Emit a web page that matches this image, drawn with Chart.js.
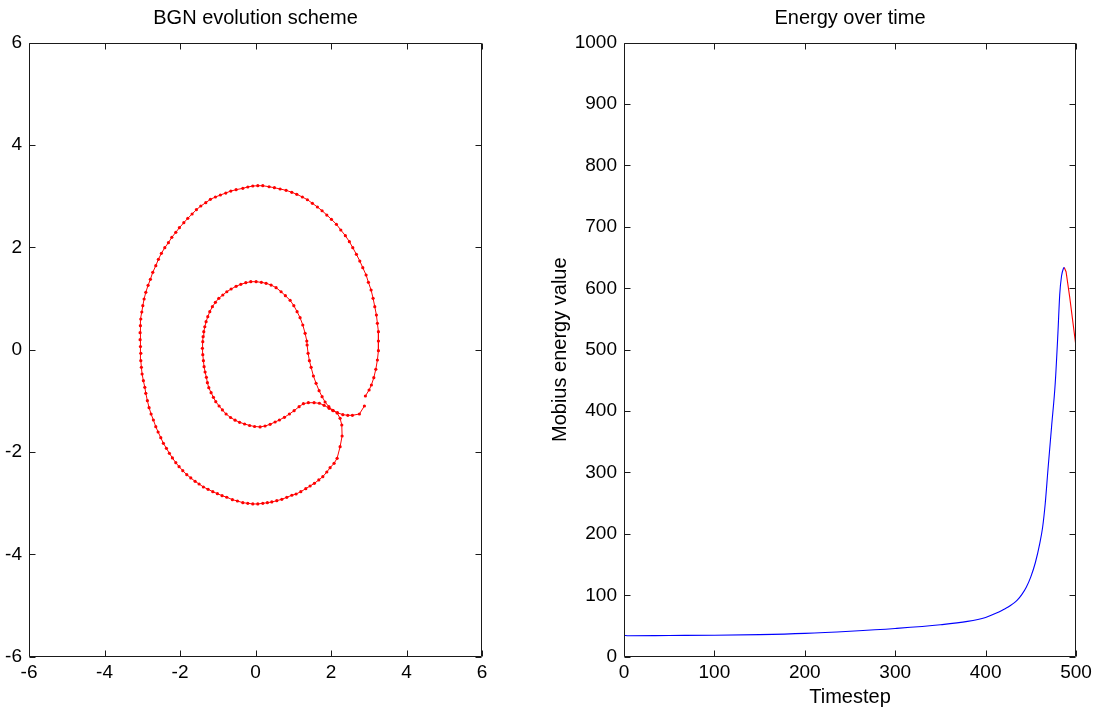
<!DOCTYPE html>
<html><head><meta charset="utf-8">
<script src="https://cdn.jsdelivr.net/npm/chart.js@4.4.1/dist/chart.umd.min.js"></script>
<style>
html,body{margin:0;padding:0;background:#fff;overflow:hidden;width:1094px;height:707px}
.c{position:absolute;left:0;top:0;width:1094px;height:720px}
</style></head><body>
<div class="c"><canvas id="left"></canvas></div>
<div class="c"><canvas id="right"></canvas></div>
<script>
// ---- Left plot: curve vertices (x, y) ----
const curveX = [2.885,2.752,2.567,2.445,2.313,2.170,
2.056,1.950,1.817,1.693,1.552,1.401,1.269,1.155,1.023,0.898,0.766,0.633,0.519,0.387,0.254,0.122,-0.024,-0.156,-0.289,-0.421,-0.540,-0.660,-0.779,-0.877,-0.964,-1.052,-1.115,-1.176,-1.237,-1.274,-1.301,-1.335,-1.362,-1.380,-1.396,-1.407,-1.396,-1.388,-1.370,-1.343,-1.309,-1.264,-1.211,-1.142,-1.062,-0.972,-0.866,-0.760,-0.646,-0.514,-0.389,-0.257,-0.125,0.016,0.156,0.281,0.413,0.546,0.678,0.792,0.917,1.015,1.102,1.181,1.253,1.314,1.359,1.367,1.393,1.428,1.473,1.534,1.605,1.685,1.764,1.844,1.942,2.048,2.162,
2.241,2.286,2.294,2.241,2.162,2.082,1.976,1.889,1.783,1.677,1.560,1.446,1.332,1.200,1.075,0.962,0.829,0.697,0.564,0.432,0.315,
0.193,0.061,-0.072,-0.204,-0.336,-0.479,-0.612,-0.760,-0.885,-1.009,-1.131,-1.256,-1.380,-1.494,-1.600,-1.714,-1.820,-1.926,-2.024,-2.111,-2.201,-2.281,-2.360,-2.440,-2.509,-2.580,-2.641,-2.705,-2.766,-2.819,-2.864,-2.906,-2.932,-2.970,-3.004,-3.023,-3.038,-3.038,-3.048,
-3.057,-3.057,-3.049,-3.038,-3.012,-2.985,-2.951,-2.906,-2.845,-2.784,-2.721,-2.641,-2.572,-2.493,-2.403,-2.307,-2.217,-2.111,-2.016,-1.899,-1.793,-1.679,-1.566,-1.449,-1.317,-1.195,-1.062,-0.930,-0.787,-0.654,-0.514,-0.336,-0.204,-0.072,0.061,0.193,
0.360,0.501,0.652,0.811,0.962,1.094,1.242,1.375,1.507,1.640,1.764,1.889,2.011,2.143,2.260,2.381,2.487,2.577,2.673,2.763,2.842,2.930,2.991,3.062,3.115,3.160,3.203,3.229,3.256,3.256,3.256,3.229,3.187,3.134,3.070,3.009,2.911];
const curveY = [-1.100,-1.257,-1.282,-1.282,-1.270,-1.231,
-1.192,-1.145,-1.087,-1.047,-1.036,-1.036,-1.055,-1.114,-1.192,-1.257,-1.321,-1.374,-1.413,-1.458,-1.491,-1.509,-1.501,-1.481,-1.452,-1.419,-1.378,-1.325,-1.257,-1.178,-1.100,-1.016,-0.930,-0.840,-0.743,-0.645,-0.539,-0.436,-0.332,-0.215,-0.098,0.027,0.156,0.254,0.352,0.449,0.547,0.645,0.743,0.840,0.926,1.005,1.069,1.133,1.186,1.239,1.278,1.309,1.329,1.329,1.317,1.298,1.264,1.212,1.133,1.055,0.965,0.860,0.743,0.625,0.483,0.321,0.170,0.092,-0.070,-0.215,-0.344,-0.514,-0.657,-0.801,-0.919,-1.022,-1.114,-1.184,-1.237,
-1.341,-1.472,-1.687,-1.896,-2.122,-2.220,-2.306,-2.390,-2.482,-2.546,-2.611,-2.664,-2.716,-2.775,-2.820,-2.845,-2.885,-2.924,-2.951,-2.976,-2.990,
-3.002,-3.015,-3.015,-3.002,-2.990,-2.957,-2.931,-2.884,-2.853,-2.814,-2.775,-2.728,-2.683,-2.625,-2.572,-2.507,-2.443,-2.365,-2.287,-2.208,-2.116,-2.025,-1.927,-1.829,-1.720,-1.608,-1.505,-1.374,-1.257,-1.133,-0.997,-0.852,-0.735,-0.606,-0.475,-0.344,-0.215,-0.070,0.062,
0.195,0.332,0.469,0.600,0.737,0.860,0.991,1.122,1.259,1.376,1.513,1.642,1.767,1.884,1.993,2.091,2.196,2.294,2.384,2.482,2.568,2.652,2.736,2.808,2.873,2.939,2.984,3.023,3.062,3.101,3.127,3.154,3.180,3.199,3.205,3.205,
3.185,3.166,3.141,3.115,3.076,3.037,2.984,2.931,2.861,2.789,2.716,2.632,2.548,2.451,2.339,2.228,2.111,1.993,1.864,1.733,1.603,1.460,1.317,1.167,1.005,0.840,0.678,0.516,0.352,0.170,-0.020,-0.201,-0.383,-0.547,-0.690,-0.788,-0.905];

// ---- Right plot: energy over time ----
const energyT = [0,5,50,100,150,200,250,300,350,380,400,412,420,425,430,435,440,445,450,455,460,463,466,469,473,477,480,482,484,486,487];
const energyV = [35,34,34.5,35,36,38,41.5,46,52,57.5,64,71,77,81,86,92,101,113,130,153,185,210,250,305,375,445,527,590,620,632,634];
const lastT = [487,489,493,500];
const lastV = [634,627,586,505];

const xyTicks = [-6,-4,-2,0,2,4,6];
const timeTicks = [0,100,200,300,400,500];
const energyTicks = [0,100,200,300,400,500,600,700,800,900,1000];

Chart.defaults.font.family = "'Liberation Sans', Arial, Helvetica, sans-serif";
Chart.defaults.font.size = 19;
Chart.defaults.color = '#000';
Chart.defaults.animation = false;

const boxPlugin = {
  id: 'matlabBox',
  afterDraw(chart) {
    const {ctx, chartArea: a, scales} = chart;
    const x = scales.x, y = scales.y;
    const L = Math.round(a.left) + 0.5, R = Math.round(a.right) - 0.5;
    const T = Math.round(a.top) + 0.5, B = Math.round(a.bottom) - 0.5;
    ctx.save();
    ctx.strokeStyle = '#1a1a1a';
    ctx.lineWidth = 1;
    ctx.beginPath();
    ctx.rect(L, T, R - L, B - T);
    const tl = 6;
    x.ticks.forEach(t => {
      const p = Math.round(x.getPixelForValue(t.value)) + 0.5;
      ctx.moveTo(p, B); ctx.lineTo(p, B - tl);
      ctx.moveTo(p, T); ctx.lineTo(p, T + tl);
    });
    y.ticks.forEach(t => {
      const p = Math.round(y.getPixelForValue(t.value)) + 0.5;
      ctx.moveTo(L, p); ctx.lineTo(L + tl, p);
      ctx.moveTo(R, p); ctx.lineTo(R - tl, p);
    });
    ctx.stroke();
    ctx.restore();
  }
};

function fixedTicks(list) {
  return function(scale) { scale.ticks = list.map(v => ({value: v})); };
}
const plain = v => String(v);

const titleFont = {size: 20, weight: 'normal', lineHeight: 1.2};

new Chart(document.getElementById('left'), {
  type: 'scatter',
  data: {
    datasets: [{
      data: curveX.map((v, i) => ({x: v, y: curveY[i]})),
      showLine: true,
      borderColor: '#ff0000',
      borderWidth: 1,
      backgroundColor: '#ff0000',
      pointRadius: 1.6,
      pointBorderWidth: 0,
      pointHoverRadius: 0
    }]
  },
  options: {
    responsive: true, maintainAspectRatio: false, devicePixelRatio: 1,
    layout: {padding: {left: 0, right: 612, top: 0, bottom: 13.3}},
    plugins: {
      legend: {display: false}, tooltip: {enabled: false},
      title: {display: true, text: 'BGN evolution scheme', fullSize: false, color: '#000',
              font: titleFont, padding: {top: 6, bottom: 12.7}}
    },
    scales: {
      x: {type: 'linear', min: -6, max: 6, afterBuildTicks: fixedTicks(xyTicks),
          grid: {display: false, drawTicks: false}, border: {display: false},
          ticks: {padding: 5, maxRotation: 0, autoSkip: false, callback: plain},
          afterFit(s) { s.height = 50; s.paddingLeft = 0; s.paddingRight = 0; }},
      y: {type: 'linear', min: -6, max: 6, afterBuildTicks: fixedTicks(xyTicks),
          grid: {display: false, drawTicks: false}, border: {display: false},
          ticks: {padding: 7, autoSkip: false, callback: plain},
          afterFit(s) { s.width = 29; s.paddingTop = 0; s.paddingBottom = 0; }}
    }
  },
  plugins: [boxPlugin]
});

new Chart(document.getElementById('right'), {
  type: 'scatter',
  data: {
    datasets: [{
      data: energyT.map((t, i) => ({x: t, y: energyV[i]})),
      showLine: true, borderColor: '#0000ff', borderWidth: 1.1,
      cubicInterpolationMode: 'monotone',
      pointRadius: 0, pointHoverRadius: 0
    }, {
      data: lastT.map((t, i) => ({x: t, y: lastV[i]})),
      showLine: true, borderColor: '#ff0000', borderWidth: 1.1,
      pointRadius: 0, pointHoverRadius: 0
    }]
  },
  options: {
    responsive: true, maintainAspectRatio: false, devicePixelRatio: 1,
    layout: {padding: {left: 544, right: 18, top: 0, bottom: 11}},
    plugins: {
      legend: {display: false}, tooltip: {enabled: false},
      title: {display: true, text: 'Energy over time', fullSize: false, color: '#000',
              font: titleFont, padding: {top: 6, bottom: 12.7}}
    },
    scales: {
      x: {type: 'linear', min: 0, max: 500, afterBuildTicks: fixedTicks(timeTicks),
          grid: {display: false, drawTicks: false}, border: {display: false},
          ticks: {padding: 5, maxRotation: 0, autoSkip: false, callback: plain},
          title: {display: true, text: 'Timestep', font: titleFont, color: '#000', padding: {top: 0, bottom: 0}},
          afterFit(s) { s.height = 52.3; s.paddingLeft = 0; s.paddingRight = 0; }},
      y: {type: 'linear', min: 0, max: 1000, afterBuildTicks: fixedTicks(energyTicks),
          grid: {display: false, drawTicks: false}, border: {display: false},
          ticks: {padding: 7, autoSkip: false, callback: plain},
          title: {display: true, text: 'Mobius energy value', font: titleFont, color: '#000', padding: {top: 4, bottom: 4}},
          afterFit(s) { s.width = 80; s.paddingTop = 0; s.paddingBottom = 0; }}
    }
  },
  plugins: [boxPlugin]
});
</script>
</body></html>
